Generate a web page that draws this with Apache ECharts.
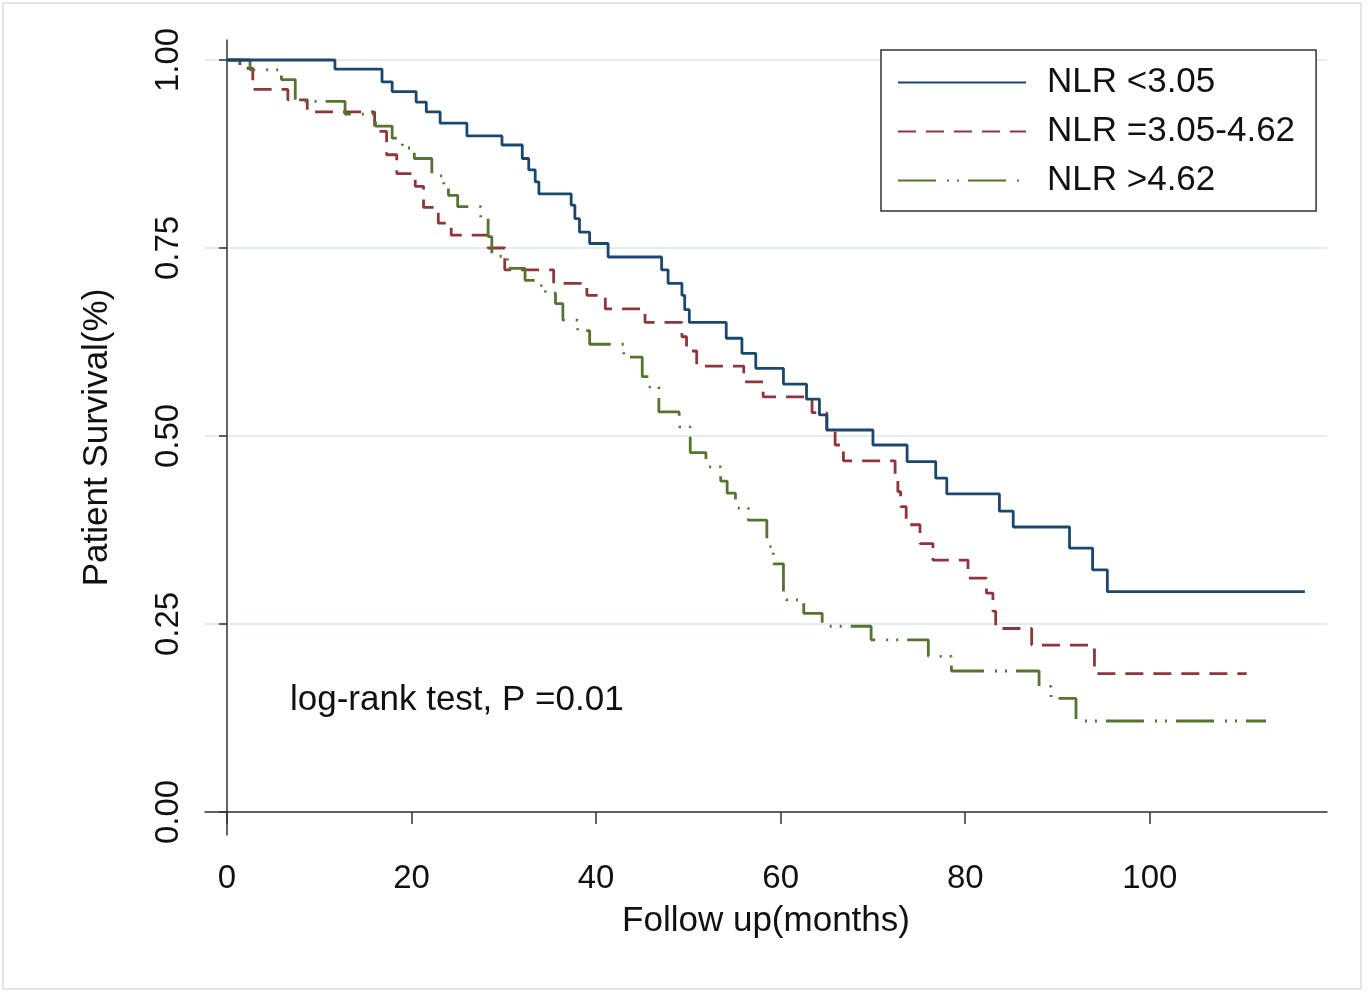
<!DOCTYPE html>
<html>
<head>
    <meta charset="UTF-8">
    <title>Patient survival by NLR</title>
    <script src="https://cdn.jsdelivr.net/npm/echarts@6/dist/echarts.min.js"></script>
    <style>
        html, body { margin: 0; padding: 0; background: #fff; }
        #main { width: 1371px; height: 994px; }
    </style>
</head>
<body>
<div id="main"></div>
<script type="text/javascript">
    // ticks
    var xTicks = [0, 20, 40, 60, 80, 100];
    var yTicks = [0, 0.25, 0.5, 0.75, 1];

    // NLR <3.05 (months, survival)
    var lowTime = [0, 11.7, 16.8, 17.9, 20.5, 21.6, 23.1, 26.0, 29.8, 32.0, 32.7, 33.4, 33.8, 37.3, 37.7, 38.2, 39.3, 41.3,
        47.1, 47.8, 49.3, 49.6, 50.1, 54.1, 55.8, 57.3, 60.3, 62.8, 64.2, 65.0, 70.0, 73.7, 76.8, 78.0, 83.7, 85.2,
        91.3, 93.8, 95.4, 116.8];
    var lowSurv = [1, 0.988, 0.971, 0.958, 0.944, 0.931, 0.916, 0.899, 0.887, 0.869, 0.854, 0.838, 0.822, 0.807, 0.789, 0.771, 0.756, 0.738,
        0.721, 0.703, 0.687, 0.668, 0.651, 0.630, 0.610, 0.590, 0.569, 0.549, 0.528, 0.508, 0.488, 0.466, 0.444, 0.423, 0.400, 0.379,
        0.351, 0.322, 0.293, 0.293];

    // NLR =3.05-4.62
    var midTime = [0, 1.4, 2.8, 6.6, 8.7, 16.0, 17.3, 18.4, 20.4, 21.3, 22.9, 24.3, 28.3, 30.1, 35.4, 39.0, 41.0, 45.3,
        49.3, 49.8, 50.9, 56.0, 58.1, 63.4, 65.0, 65.9, 66.8, 72.4, 72.7, 73.0, 73.6, 75.1, 76.5, 80.3, 82.3, 83.0,
        83.3, 87.2, 94.0, 110.5];
    var midSurv = [1, 0.989, 0.961, 0.947, 0.931, 0.905, 0.874, 0.849, 0.832, 0.804, 0.783, 0.767, 0.750, 0.721, 0.703, 0.687, 0.669, 0.651,
        0.632, 0.613, 0.593, 0.572, 0.552, 0.531, 0.508, 0.488, 0.467, 0.447, 0.426, 0.406, 0.382, 0.357, 0.335, 0.311, 0.291, 0.267,
        0.244, 0.222, 0.184, 0.184];

    // NLR >4.62
    var highTime = [0, 2.5, 5.9, 7.4, 12.8, 16.1, 17.9, 19.0, 20.3, 22.2, 23.5, 24.0, 25.0, 27.5, 28.3, 28.7, 30.4, 32.3, 33.8,
        34.5, 35.6, 36.4, 38.0, 39.3, 43.0, 45.0, 45.8, 46.8, 49.0, 50.2, 51.9, 53.5, 54.2, 55.1, 56.5, 58.5, 59.2,
        60.3, 60.6, 62.5, 64.5, 69.8, 76.0, 78.5, 88.0, 89.3, 92.0, 112.6];
    var highSurv = [1, 0.987, 0.974, 0.945, 0.928, 0.912, 0.896, 0.883, 0.869, 0.846, 0.833, 0.820, 0.805, 0.790, 0.765, 0.739, 0.723, 0.707, 0.700,
        0.690, 0.676, 0.654, 0.640, 0.622, 0.605, 0.579, 0.565, 0.532, 0.512, 0.478, 0.459, 0.440, 0.424, 0.404, 0.388, 0.353, 0.330,
        0.291, 0.282, 0.264, 0.247, 0.229, 0.207, 0.1875, 0.167, 0.151, 0.121, 0.121];

    function pairs(t, s) {
        var out = [];
        for (var i = 0; i < t.length; i++) {
            out.push([t[i], s[i]]);
        }
        return out;
    }

    var font = 'Liberation Sans, Arial, sans-serif';
    var myChart = echarts.init(document.getElementById('main'));

    myChart.setOption({
        backgroundColor: '#fff',
        animation: false,
        graphic: [{
            type: 'rect',
            shape: { x: 3, y: 3, width: 1358, height: 986 },
            style: { fill: 'none', stroke: '#dcdcdc', lineWidth: 1.5 },
            silent: true
        }],
        title: {
            text: 'log-rank test, P =0.01',
            left: 290,
            top: 683,
            padding: 0,
            textStyle: { fontFamily: font, fontSize: 35, fontWeight: 'normal', color: '#111' }
        },
        legend: {
            orient: 'vertical',
            left: 881,
            top: 50,
            padding: [15, 21, 13, 16],
            itemWidth: 128,
            itemHeight: 36,
            itemGap: 14,
            borderColor: '#333',
            borderWidth: 1.5,
            backgroundColor: '#fff',
            itemStyle: { opacity: 0 },
            data: ['NLR <3.05', 'NLR =3.05-4.62', 'NLR >4.62'],
            textStyle: { fontFamily: font, fontSize: 35, color: '#111', padding: [0, 0, 0, 16] }
        },
        grid: {
            left: 205,
            right: 44,
            top: 40,
            bottom: 159
        },
        xAxis: {
            type: 'value',
            min: -2.38,
            max: 119.2,
            name: 'Follow up(months)',
            nameLocation: 'middle',
            nameGap: 69,
            nameTextStyle: { fontFamily: font, fontSize: 35, color: '#111' },
            axisLine: { lineStyle: { color: '#333', width: 1.5 } },
            axisTick: { customValues: xTicks, length: 12, lineStyle: { color: '#333', width: 1.5 } },
            axisLabel: { customValues: xTicks, margin: 27, fontFamily: font, fontSize: 33, color: '#111' },
            splitLine: { show: false }
        },
        yAxis: {
            type: 'value',
            min: -0.0306,
            max: 1.0266,
            name: 'Patient Survival(%)',
            nameLocation: 'middle',
            nameGap: 90,
            nameTextStyle: { fontFamily: font, fontSize: 35, color: '#111' },
            axisLine: { show: true, lineStyle: { color: '#333', width: 1.5 } },
            axisTick: { show: true, customValues: yTicks, length: 8, lineStyle: { color: '#333', width: 1.5 } },
            axisLabel: {
                customValues: yTicks,
                rotate: 90,
                margin: 20,
                fontFamily: font,
                fontSize: 33,
                color: '#111',
                formatter: function (v) { return v.toFixed(2); }
            },
            splitLine: { show: true, lineStyle: { color: '#e2edf0', width: 2 } }
        },
        series: [{
            name: 'NLR <3.05',
            type: 'line',
            step: 'end',
            symbol: 'none',
            data: pairs(lowTime, lowSurv),
            lineStyle: { color: '#1a476f', width: 2.8 },
            itemStyle: { color: '#1a476f' },
            z: 4
        }, {
            name: 'NLR =3.05-4.62',
            type: 'line',
            step: 'end',
            symbol: 'none',
            data: pairs(midTime, midSurv),
            lineStyle: { color: '#90353b', width: 2.8, type: [18, 10] },
            itemStyle: { color: '#90353b' },
            z: 3
        }, {
            name: 'NLR >4.62',
            type: 'line',
            step: 'end',
            symbol: 'none',
            data: pairs(highTime, highSurv),
            lineStyle: { color: '#55752f', width: 2.8, type: [38, 11, 2, 8, 2, 9] },
            itemStyle: { color: '#55752f' },
            z: 3
        }]
    });
</script>
</body>
</html>
